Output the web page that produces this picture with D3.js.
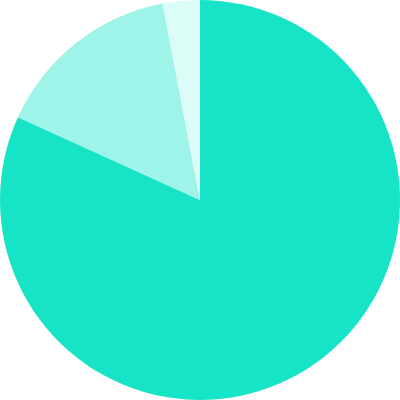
<!DOCTYPE html>
<html><head><meta charset="utf-8">
<script src="https://cdn.jsdelivr.net/npm/d3@7"></script>
<style>html,body{margin:0;padding:0;background:#fff;}</style>
</head><body>
<svg id="c" width="400" height="400"></svg>
<script>
const categories = ["A", "B", "C"];
const values = [81.8, 15.2, 3.0];
const colors = ["#17e3c7", "#9ef4e8", "#dcfcf7"];

const svg = d3.select("#c");
const w = 400, h = 400, r = 200;
const g = svg.append("g").attr("transform", `translate(${w/2},${h/2})`);
const pie = d3.pie().sort(null).value(d => d.v);
const arc = d3.arc().innerRadius(0).outerRadius(r);
const data = categories.map((c, i) => ({c, v: values[i]}));
const color = d3.scaleOrdinal().domain(categories).range(colors);
g.selectAll("path").data(pie(data)).join("path")
  .attr("d", arc)
  .attr("fill", d => color(d.data.c));
</script>
</body></html>
